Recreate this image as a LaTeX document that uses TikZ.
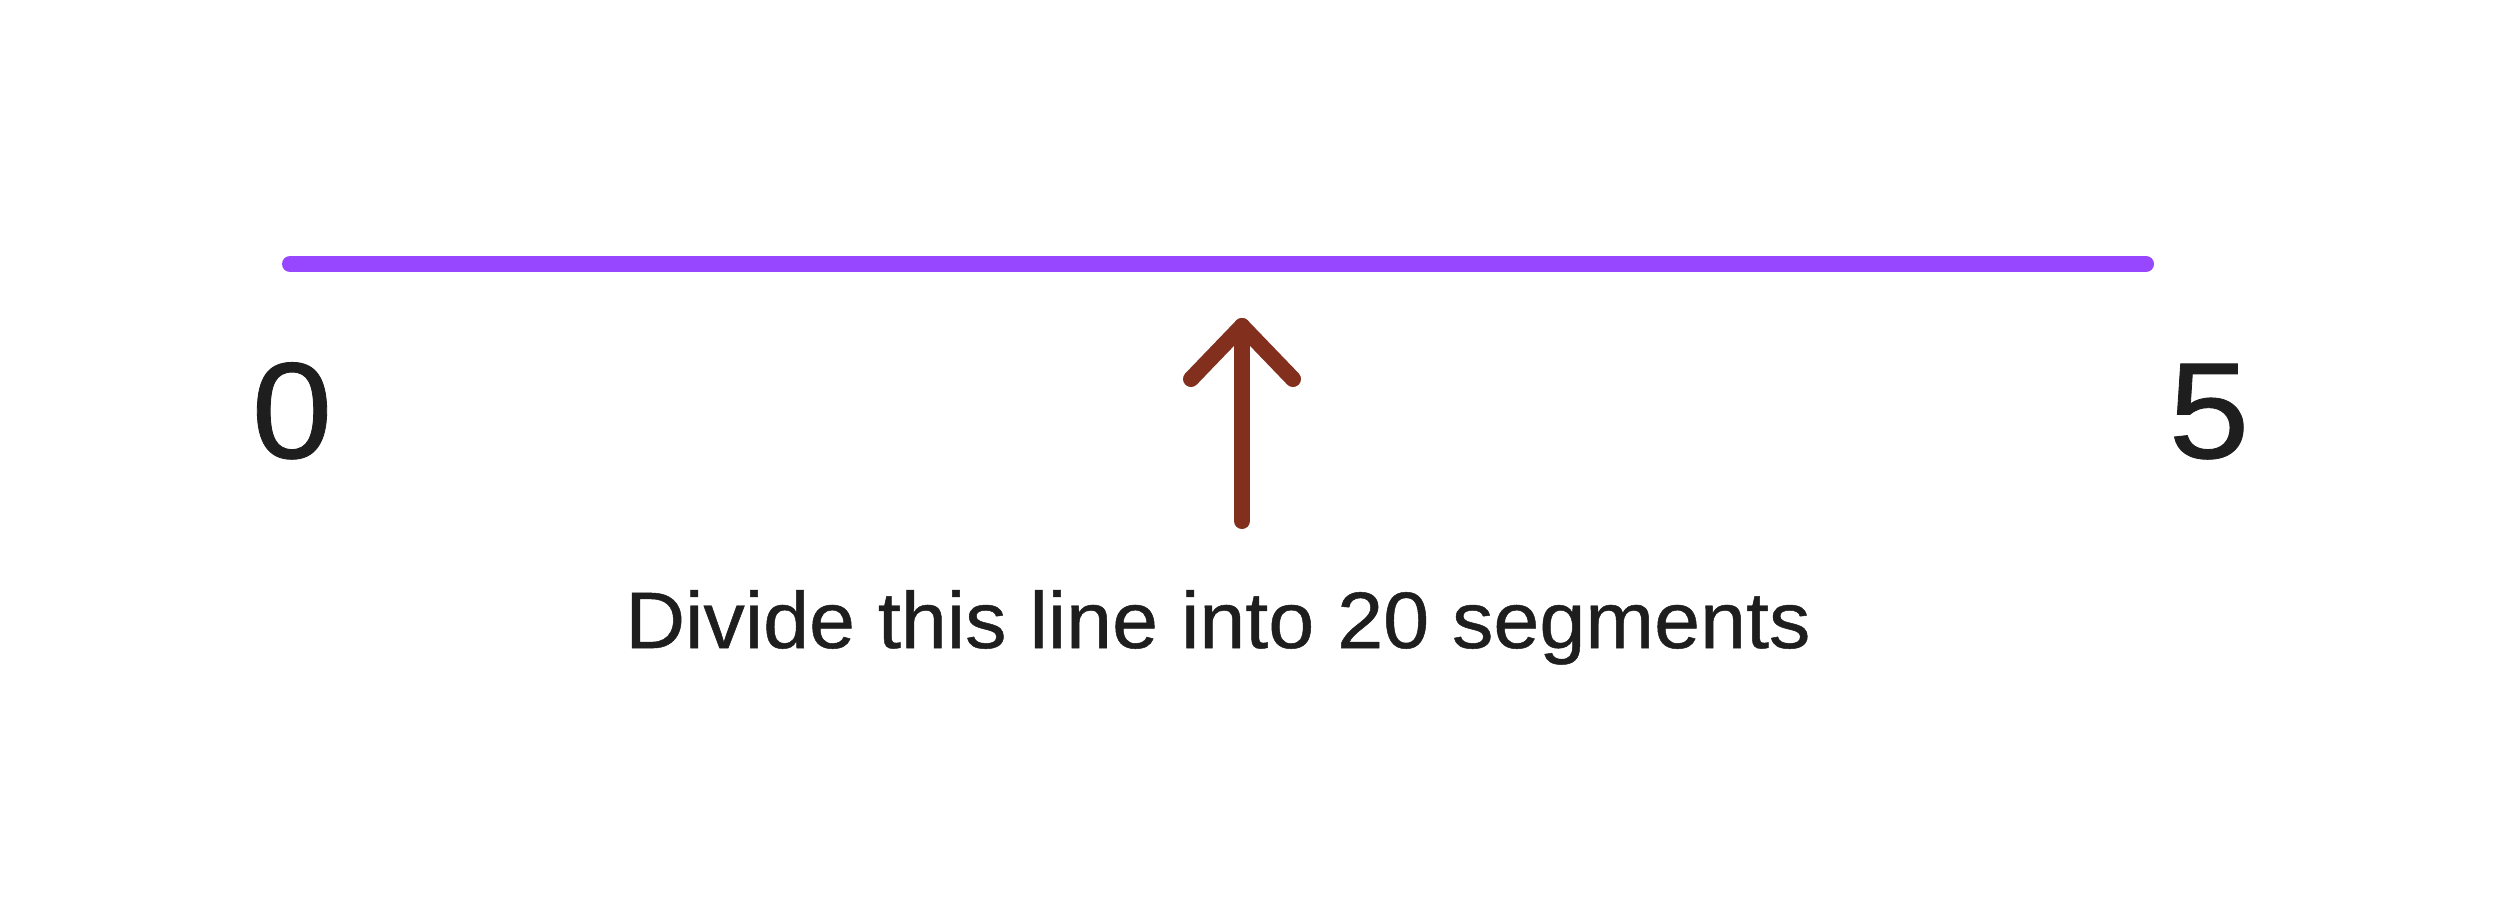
\documentclass[tikz,border=0pt]{standalone}
\usepackage{fontspec}
\setmainfont{Liberation Sans}[FakeStretch=1.06,FakeBold=0.6]
\newfontfamily\lblfont{Liberation Sans}[FakeStretch=1.033,FakeBold=0.6]
\definecolor{linepurple}{HTML}{9747FF}
\definecolor{arrowbrown}{HTML}{832F1E}
\definecolor{txt}{HTML}{1E1E1E}
\begin{document}
\begin{tikzpicture}[x=0.5pt,y=-0.5pt,
  seg/.style={line width=8pt,line cap=round,color=linepurple},
  arr/.style={line width=8pt,line cap=round,line join=round,color=arrowbrown},
  num/.style={text=txt,font=\fontsize{68.5pt}{80pt}\selectfont,inner sep=0pt,anchor=base},
  lbl/.style={text=txt,font=\lblfont\fontsize{40pt}{48pt}\selectfont,inner sep=0pt,anchor=base}]
\useasboundingbox[fill=white] (0,0) rectangle (2497,923);
\coordinate (L0) at (290,264);
\coordinate (L1) at (2146,264);
\draw[seg] (L0) -- (L1);
\node[num] (n0) at (292,458) {0};
\node[num] (n5) at (2209,458) {5};
\coordinate (tip) at (1242,326);
\coordinate (tail) at (1242,521);
\coordinate (wl) at (1191,379);
\coordinate (wr) at (1293,379);
\draw[arr] (tail) -- (tip);
\draw[arr] (wl) -- (tip) -- (wr);
\node[lbl] (t) at (1218,648) {Divide this line into 20 segments};
\end{tikzpicture}
\end{document}
